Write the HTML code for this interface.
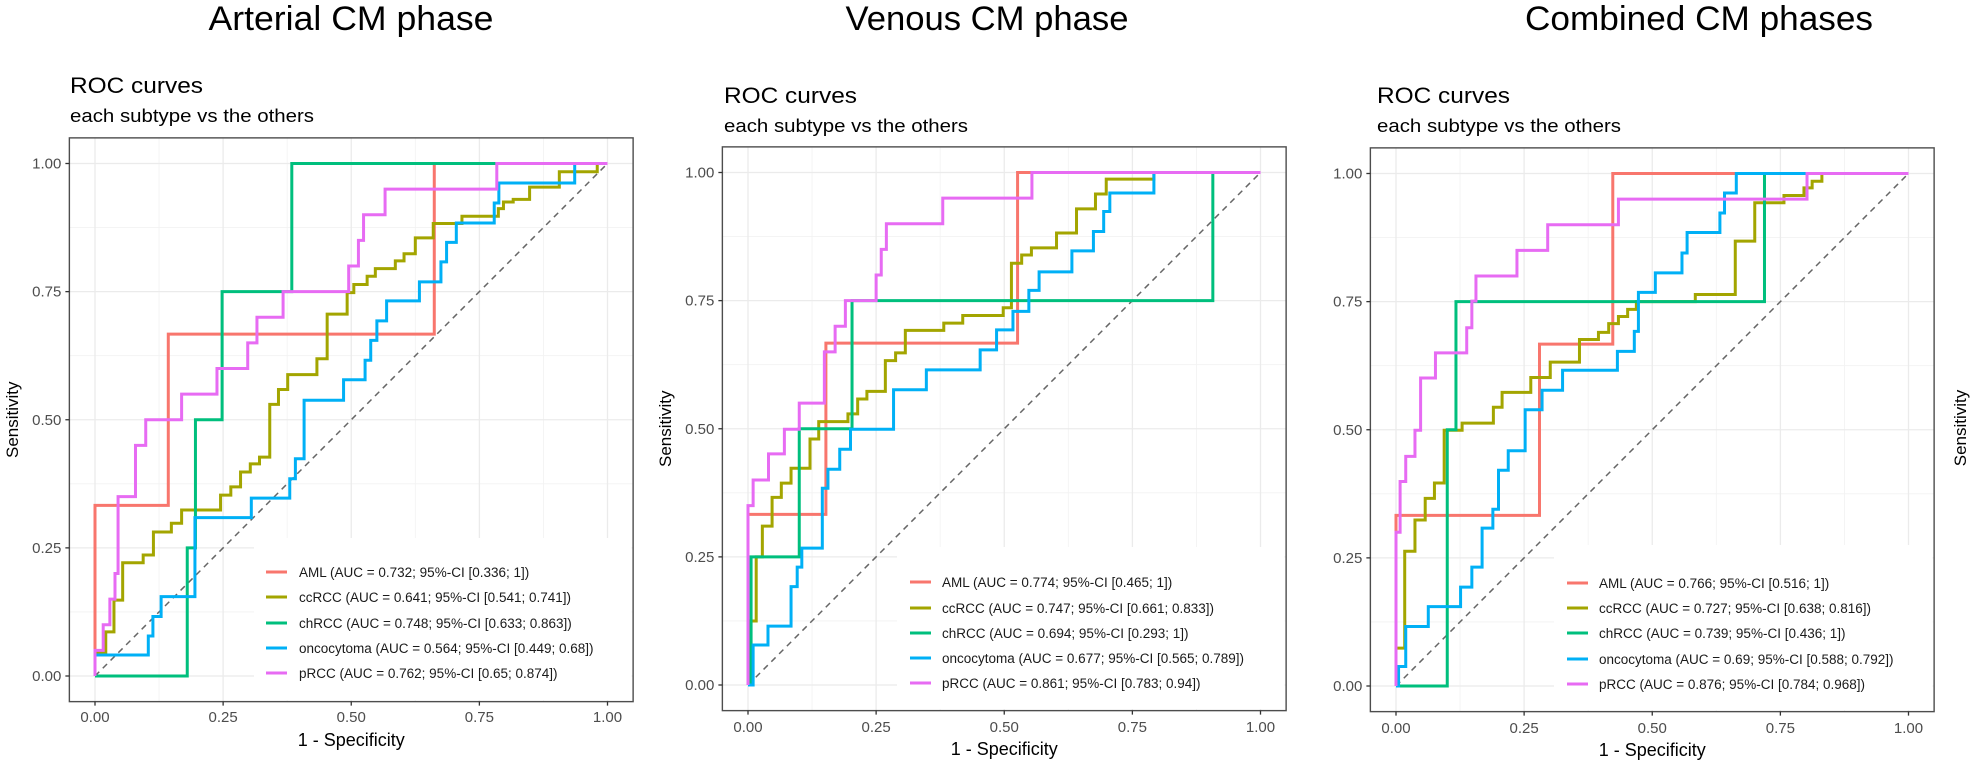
<!DOCTYPE html>
<html><head><meta charset="utf-8">
<style>
html,body{margin:0;padding:0;background:#fff;}
svg{display:block;font-family:"Liberation Sans",sans-serif;}
</style></head>
<body>
<svg id="fig" width="1975" height="765" viewBox="0 0 1975 765" xmlns="http://www.w3.org/2000/svg">
<rect width="1975" height="765" fill="#fff"/>
<text x="351" y="30" font-size="34" text-anchor="middle" textLength="285" lengthAdjust="spacingAndGlyphs" fill="#000">Arterial CM phase</text>
<text x="987" y="30" font-size="34" text-anchor="middle" textLength="283" lengthAdjust="spacingAndGlyphs" fill="#000">Venous CM phase</text>
<text x="1699" y="30" font-size="34" text-anchor="middle" textLength="348" lengthAdjust="spacingAndGlyphs" fill="#000">Combined CM phases</text>
<text transform="translate(1966,428) rotate(-90)" font-size="17" text-anchor="middle" fill="#000">Sensitivity</text>
</svg>
<script>
// ---- data (rise points: at fpr x the curve rises to tpr y) ----
const seriesNames = ["AML","ccRCC","chRCC","oncocytoma","pRCC"];
const seriesColors = ["#F8766D","#A3A500","#00BF7D","#00B0F6","#E76BF3"];
const xTicks = [0,0.25,0.5,0.75,1];
const xTickLabels = ["0.00","0.25","0.50","0.75","1.00"];
const yTicks = [0,0.25,0.5,0.75,1];
const yTickLabels = ["0.00","0.25","0.50","0.75","1.00"];

const p1_aml_x = [0,0.143,0.662];
const p1_aml_y = [0.333,0.667,1];
const p1_cc_x = [0,0.021,0.037,0.054,0.094,0.114,0.149,0.169,0.245,0.265,0.284,0.303,0.321,0.341,0.358,0.376,0.433,0.453,0.492,0.505,0.531,0.547,0.586,0.603,0.625,0.66,0.716,0.787,0.797,0.816,0.848,0.906,0.98];
const p1_cc_y = [0.045,0.086,0.148,0.221,0.236,0.281,0.298,0.324,0.353,0.369,0.398,0.414,0.427,0.53,0.559,0.588,0.619,0.706,0.748,0.764,0.78,0.795,0.81,0.824,0.855,0.883,0.897,0.912,0.925,0.93,0.954,0.984,1];
const p1_ch_x = [0,0.18,0.196,0.248,0.384];
const p1_ch_y = [0,0.25,0.5,0.75,1];
const p1_on_x = [0,0.104,0.113,0.129,0.195,0.305,0.38,0.391,0.408,0.485,0.527,0.538,0.55,0.569,0.633,0.675,0.686,0.705,0.779,0.788,0.936];
const p1_on_y = [0.041,0.078,0.116,0.155,0.309,0.347,0.385,0.424,0.538,0.578,0.616,0.655,0.693,0.732,0.769,0.808,0.846,0.884,0.923,0.962,1];
const p1_pr_x = [0,0.016,0.029,0.039,0.045,0.079,0.099,0.169,0.238,0.298,0.316,0.367,0.495,0.514,0.524,0.566,0.784];
const p1_pr_y = [0.05,0.1,0.15,0.2,0.35,0.45,0.5,0.55,0.6,0.65,0.7,0.75,0.8,0.85,0.9,0.95,1];

const p2_aml_x = [0,0.152,0.526];
const p2_aml_y = [0.333,0.667,1];
const p2_cc_x = [0.005,0.016,0.028,0.047,0.065,0.084,0.121,0.138,0.195,0.214,0.232,0.268,0.288,0.307,0.382,0.419,0.498,0.514,0.534,0.553,0.602,0.641,0.678,0.699,0.792];
const p2_cc_y = [0.125,0.25,0.31,0.366,0.394,0.423,0.48,0.514,0.529,0.558,0.573,0.633,0.648,0.692,0.706,0.721,0.736,0.823,0.839,0.853,0.882,0.929,0.958,0.987,1];
const p2_ch_x = [0.006,0.1,0.203,0.907];
const p2_ch_y = [0.25,0.5,0.75,1];
const p2_on_x = [0.01,0.039,0.084,0.096,0.105,0.145,0.156,0.179,0.2,0.284,0.348,0.453,0.485,0.517,0.548,0.568,0.632,0.674,0.694,0.706,0.792];
const p2_on_y = [0.078,0.115,0.192,0.23,0.267,0.384,0.421,0.46,0.499,0.576,0.615,0.654,0.693,0.729,0.77,0.806,0.847,0.885,0.924,0.96,1];
const p2_pr_x = [0,0.01,0.04,0.071,0.1,0.149,0.17,0.19,0.25,0.26,0.27,0.38,0.554];
const p2_pr_y = [0.35,0.4,0.451,0.499,0.55,0.65,0.7,0.75,0.8,0.85,0.9,0.95,1];

const p3_aml_x = [0,0.28,0.423];
const p3_aml_y = [0.333,0.667,1];
const p3_cc_x = [0,0.017,0.037,0.057,0.075,0.094,0.129,0.19,0.207,0.263,0.301,0.358,0.395,0.415,0.434,0.452,0.469,0.584,0.662,0.7,0.757,0.796,0.812,0.831];
const p3_cc_y = [0.074,0.263,0.324,0.366,0.396,0.499,0.513,0.544,0.573,0.602,0.632,0.676,0.69,0.707,0.721,0.735,0.75,0.764,0.868,0.943,0.957,0.972,0.985,1];
const p3_ch_x = [0.1,0.117,0.719];
const p3_ch_y = [0.5,0.75,1];
const p3_on_x = [0.005,0.019,0.063,0.126,0.148,0.168,0.189,0.2,0.219,0.252,0.285,0.325,0.432,0.465,0.473,0.506,0.558,0.568,0.632,0.641,0.664];
const p3_on_y = [0.038,0.116,0.155,0.193,0.232,0.308,0.345,0.421,0.459,0.539,0.577,0.616,0.653,0.692,0.768,0.806,0.845,0.885,0.923,0.962,1];
const p3_pr_x = [0,0.008,0.019,0.037,0.048,0.077,0.138,0.148,0.156,0.236,0.296,0.434,0.802];
const p3_pr_y = [0.3,0.399,0.448,0.499,0.601,0.65,0.699,0.751,0.8,0.85,0.9,0.95,1];

const p1_legend = ["AML (AUC = 0.732; 95%-CI [0.336; 1])","ccRCC (AUC = 0.641; 95%-CI [0.541; 0.741])","chRCC (AUC = 0.748; 95%-CI [0.633; 0.863])","oncocytoma (AUC = 0.564; 95%-CI [0.449; 0.68])","pRCC (AUC = 0.762; 95%-CI [0.65; 0.874])"];
const p2_legend = ["AML (AUC = 0.774; 95%-CI [0.465; 1])","ccRCC (AUC = 0.747; 95%-CI [0.661; 0.833])","chRCC (AUC = 0.694; 95%-CI [0.293; 1])","oncocytoma (AUC = 0.677; 95%-CI [0.565; 0.789])","pRCC (AUC = 0.861; 95%-CI [0.783; 0.94])"];
const p3_legend = ["AML (AUC = 0.766; 95%-CI [0.516; 1])","ccRCC (AUC = 0.727; 95%-CI [0.638; 0.816])","chRCC (AUC = 0.739; 95%-CI [0.436; 1])","oncocytoma (AUC = 0.69; 95%-CI [0.588; 0.792])","pRCC (AUC = 0.876; 95%-CI [0.784; 0.968])"];

const NS = "http://www.w3.org/2000/svg";
const svg = document.getElementById("fig");
function mk(tag, attrs, parent){
  const e = document.createElementNS(NS, tag);
  for (const k in attrs) e.setAttribute(k, attrs[k]);
  (parent||svg).appendChild(e);
  return e;
}

const panels = [
  {id:"arterial", x0:95, y0:676, roc:{x:70,y:93}, sub:{x:70,y:122}, ylab:12, leg:{bx:254,by:538,kx:266,tx:299,rows:[572,597,623,648,673]},
   xt:{y:722,ty:746}, series:[[p1_aml_x,p1_aml_y],[p1_cc_x,p1_cc_y],[p1_ch_x,p1_ch_y],[p1_on_x,p1_on_y],[p1_pr_x,p1_pr_y]], legend:p1_legend},
  {id:"venous", x0:748, y0:685, roc:{x:724,y:103}, sub:{x:724,y:132}, ylab:665, leg:{bx:897,by:547,kx:910,tx:942,rows:[582,608,633,658,683]},
   xt:{y:732,ty:755}, series:[[p2_aml_x,p2_aml_y],[p2_cc_x,p2_cc_y],[p2_ch_x,p2_ch_y],[p2_on_x,p2_on_y],[p2_pr_x,p2_pr_y]], legend:p2_legend},
  {id:"combined", x0:1396, y0:686, roc:{x:1377,y:103}, sub:{x:1377,y:132}, ylab:null, leg:{bx:1554,by:545,kx:1567,tx:1599,rows:[583,608,633,659,684]},
   xt:{y:733,ty:756}, series:[[p3_aml_x,p3_aml_y],[p3_cc_x,p3_cc_y],[p3_ch_x,p3_ch_y],[p3_on_x,p3_on_y],[p3_pr_x,p3_pr_y]], legend:p3_legend}
];
const S = 512.5;

panels.forEach(function(p){
  const g = mk("g", {});
  
  
  const X = v => p.x0 + v*S;
  const Y = v => p.y0 - v*S;
  const L = X(-0.05), R = X(1.05), T = Y(1.05), B = Y(-0.05);

  const t1 = mk("text", {x:p.roc.x, y:p.roc.y, "font-size":22, textLength:133, lengthAdjust:"spacingAndGlyphs", fill:"#000"}, g);
  t1.textContent = "ROC curves";
  
  
  const t2 = mk("text", {x:p.sub.x, y:p.sub.y, "font-size":18, textLength:244, lengthAdjust:"spacingAndGlyphs", fill:"#000"}, g);
  t2.textContent = "each subtype vs the others";
  
  

  [0.125,0.375,0.625,0.875].forEach(function(v){
    const a = mk("line", {x1:X(v),x2:X(v),y1:T,y2:B,stroke:"#F2F2F2","stroke-width":0.8}, g);
    
    
    const b = mk("line", {x1:L,x2:R,y1:Y(v),y2:Y(v),stroke:"#F2F2F2","stroke-width":0.8}, g);
    
    
  });
  xTicks.forEach(function(v){
    const a = mk("line", {x1:X(v),x2:X(v),y1:T,y2:B,stroke:"#EBEBEB","stroke-width":1.3}, g);
    
    
  });
  yTicks.forEach(function(v){
    const b = mk("line", {x1:L,x2:R,y1:Y(v),y2:Y(v),stroke:"#EBEBEB","stroke-width":1.3}, g);
    
    
  });

  const lb = mk("rect", {x:p.leg.bx, y:p.leg.by, width:R-1.5-p.leg.bx, height:B-1.5-p.leg.by, fill:"#fff"}, g);
  
  

  const d = mk("line", {x1:X(0),y1:Y(0),x2:X(1),y2:Y(1),stroke:"#666","stroke-width":1.5,"stroke-dasharray":"6,5"}, g);
  
  

  p.series.forEach(function(s, i){
    const xs = s[0], ys = s[1];
    let dd = "M" + X(0) + "," + Y(0);
    let py = 0;
    for (let k = 0; k < xs.length; k++){
      dd += " L" + X(xs[k]) + "," + Y(py) + " L" + X(xs[k]) + "," + Y(ys[k]);
      py = ys[k];
    }
    dd += " L" + X(1) + "," + Y(py);
    const path = mk("path", {d:dd, fill:"none", stroke:seriesColors[i], "stroke-width":3, "stroke-linejoin":"miter"}, g);
    
    
  });

  p.legend.forEach(function(txt, i){
    const ky = p.leg.rows[i];
    const ln = mk("line", {x1:p.leg.kx, x2:p.leg.kx+21, y1:ky, y2:ky, stroke:seriesColors[i], "stroke-width":3}, g);
    
    
    const tx = mk("text", {x:p.leg.tx, y:ky+5, "font-size":13.5, fill:"#1a1a1a"}, g);
    tx.textContent = txt;
    
    
  });

  const br = mk("rect", {x:L, y:T, width:R-L, height:B-T, fill:"none", stroke:"#4d4d4d", "stroke-width":1.4}, g);
  
  

  yTicks.forEach(function(v, i){
    const tk = mk("line", {x1:L-4, x2:L, y1:Y(v), y2:Y(v), stroke:"#333", "stroke-width":1.3}, g);
    
    
    const lab = mk("text", {x:L-8, y:Y(v)+5, "font-size":15, "text-anchor":"end", fill:"#4D4D4D"}, g);
    lab.textContent = yTickLabels[i];
    
    
  });
  xTicks.forEach(function(v, i){
    const tk = mk("line", {x1:X(v), x2:X(v), y1:B, y2:B+4, stroke:"#333", "stroke-width":1.3}, g);
    
    
    const lab = mk("text", {x:X(v), y:p.xt.y, "font-size":15, "text-anchor":"middle", fill:"#4D4D4D"}, g);
    lab.textContent = xTickLabels[i];
    
    
  });

  const xa = mk("text", {x:X(0.5), y:p.xt.ty, "font-size":18, "text-anchor":"middle", fill:"#000"}, g);
  xa.textContent = "1 - Specificity";
  
  
  if (p.ylab !== null){
    const ya = mk("text", {transform:"translate(" + (p.ylab+6) + "," + Y(0.5) + ") rotate(-90)", "font-size":17, "text-anchor":"middle", fill:"#000"}, g);
    ya.textContent = "Sensitivity";
    
    
  }
});
</script>
</body></html>
